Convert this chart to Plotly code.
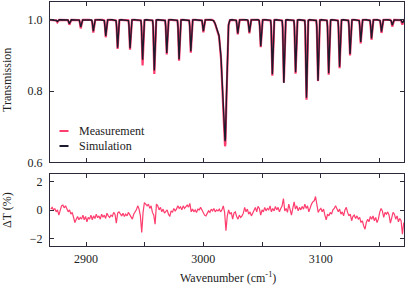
import numpy as np
import plotly.graph_objects as go

# ---- Data ----
# Absorption lines: centre (cm^-1), simulated depth, measured depth, gaussian width (cm^-1)
line_center = [2875.5, 2885.8, 2895.5, 2906.2, 2916.8, 2926.9, 2937.5, 2948.2, 2958.2,
               2968.8, 2979.3, 2989.3, 3000.0, 3012.0, 3014.6, 3016.4, 3018.6,
               3029.3, 3039.2, 3048.9, 3058.8, 3068.6, 3078.6, 3087.9, 3097.7,
               3106.8, 3116.1, 3125.0, 3134.1, 3143.3, 3151.8, 3161.0, 3169.6]
sim_depth = [0.005, 0.011, 0.020, 0.032, 0.045, 0.078, 0.080, 0.112, 0.142,
             0.093, 0.111, 0.088, 0.032, 0.025, 0.060, 0.140, 0.333,
             0.038, 0.035, 0.074, 0.153, 0.177, 0.147, 0.219, 0.171,
             0.150, 0.132, 0.096, 0.062, 0.052, 0.033, 0.015, 0.009]
meas_depth = [0.007, 0.014, 0.024, 0.036, 0.049, 0.082, 0.084, 0.128, 0.152,
              0.097, 0.115, 0.092, 0.035, 0.027, 0.062, 0.143, 0.347,
              0.041, 0.038, 0.077, 0.157, 0.176, 0.151, 0.224, 0.172,
              0.154, 0.136, 0.100, 0.066, 0.056, 0.037, 0.019, 0.013]
line_width = [0.5] * 13 + [1.5, 1.0, 0.9, 1.15] + [0.5] * 16

# Residual ΔT (%) read across the lower panel, evenly spaced in wavenumber
resid_start, resid_end = 2870.0, 3170.8
resid = [
    0.07, 0.19, 0.02, 0.10, -0.12, 0.02, -0.35, -0.05, 0.30, 0.35, 0.16, 0.30, 0.02, -0.12,
    0.02, -0.28, -0.16, -0.63, -0.86, -0.63, -0.44, -0.67, -0.51, -0.63, -0.35, -0.67, -0.44,
    -0.81, -0.51, -0.63, -0.35, -0.67, -0.40, -0.58, -0.28, -0.53, -0.40, -0.63, -0.28, -0.49,
    -0.35, -0.58, -0.21, -0.40, -0.51, -0.35, -0.44, -0.16, -0.28, -0.91, -0.21, -0.12, -0.28,
    -0.40, -0.21, -0.44, -0.28, -0.40, -0.16, -0.35, -0.44, -0.63, -0.28, -0.16, 0.02, 0.30,
    0.07, -0.40, -1.56, -0.16, 0.53, 0.42, 0.30, 0.42, 0.12, 0.30, -0.16, -0.35,
    -0.98, 0.42, 0.30, 0.02, 0.19, -0.12, 0.07, -0.21,
    -0.12, 0.02, -0.28, -0.44, -0.05, -0.16, 0.12, -0.05, 0.07, 0.30, 0.12, 0.23, 0.02, 0.30,
    0.12, 0.26, 0.35, 0.21, 0.47, -0.12, 0.07, -0.12, 0.02, -0.16, 0.07, 0.02, 0.19, 0.02,
    -0.16, -0.35, -0.40, -0.21, -0.05, -0.16, 0.07, -0.05, 0.12, -0.12, 0.02, -0.05, 0.07,
    -0.12, 0.02, 0.30, -0.16, -1.44, -0.40, 0.02, -0.28, -0.16, -0.63, -0.21, -0.12, -0.44,
    -0.63, -0.35, -0.51, -0.40, -0.21, 0.19, -0.12, 0.07, -0.28, -0.12, -0.40, -0.21, 0.07,
    0.19, -0.12, 0.26, 0.12, -0.35, 0.02, -0.12, 0.19, -0.05, 0.12, 0.02, 0.30, -0.12, 0.12,
    -0.05, 0.26, 0.02, 0.19, -0.12, 0.12, 0.30, 0.81,
    -0.05, 0.12, -0.16, 0.42, 0.07, -0.35, 0.12, 0.58, 0.07, 0.30, -0.05, 0.19, 0.02, 0.26,
    0.07, 0.42, 0.12, 0.30, -0.12, 0.19, 0.42, 0.58, 0.65, 0.95, 0.42, -0.16, 0.02, 0.12,
    -0.12, 0.07, -0.35, -0.67, -0.28, -0.40, -0.16, -0.28, 0.02, 0.12, 0.30, 0.02, -0.12,
    0.07, -0.28, -0.12, -0.40, 0.02, 0.19, -0.16, -0.40, -0.28, -0.74, -0.44, -0.35, -0.58,
    -0.40, -0.63, -0.51, -0.86, -0.74, -1.09, -1.33, -0.86, -0.63, -0.81, -0.44, -0.63, -0.40,
    -0.74, -0.51, -0.86, -0.63, -0.16, 0.12, -0.05, -0.51, -0.16, -0.28, -0.12, -0.35, -0.91,
    -0.40, -0.16, -0.28, -0.63, -0.40, -0.81, -0.58, -0.74, -1.67, -0.86,
]

x_major_ticks = [2900, 3000, 3100]
x_minor_step = 50

# ---- Build curves from the line list ----
nu = np.arange(2869.0, 3171.5, 0.05)


def transmission(depths):
    t = np.ones_like(nu)
    for c, d, w in zip(line_center, depths, line_width):
        t -= d * np.exp(-((nu - c) ** 2) / (2 * w * w))
    return t


T_sim = transmission(sim_depth)
T_meas = transmission(meas_depth)
nu_res = np.linspace(resid_start, resid_end, len(resid))

PINK = "#ff3d6e"
DARK = "#1c1a2c"
AX = "#2a2a3a"
FONT = dict(family="Liberation Serif, Times New Roman, serif", size=12, color="#222222")

fig = go.Figure()
fig.add_trace(go.Scatter(x=nu, y=T_meas, mode="lines", line=dict(color=PINK, width=2.2),
                         name="Measurement", xaxis="x", yaxis="y", showlegend=False))
fig.add_trace(go.Scatter(x=nu, y=T_sim, mode="lines", line=dict(color=DARK, width=1.4),
                         name="Simulation", xaxis="x", yaxis="y", showlegend=False))
fig.add_trace(go.Scatter(x=nu_res, y=resid, mode="lines", line=dict(color=PINK, width=1.2),
                         name="ΔT", xaxis="x2", yaxis="y2", showlegend=False))

axis_common = dict(showline=True, linecolor=AX, linewidth=1, mirror="ticks", ticks="inside",
                   ticklen=4, tickwidth=1, tickcolor=AX, showgrid=False, zeroline=False,
                   tickfont=FONT)
x_minor = dict(ticks="inside", ticklen=4, tickwidth=1, tickcolor=AX, dtick=x_minor_step,
               showgrid=False)

x_range = [2869.3, 3171.0]
fig.update_layout(
    width=407, height=289,
    margin=dict(l=50, r=3, t=2, b=43),
    paper_bgcolor="white", plot_bgcolor="white",
    font=FONT,
    xaxis=dict(axis_common, range=x_range, anchor="y", tickvals=x_major_ticks,
               showticklabels=False, minor=x_minor),
    yaxis=dict(axis_common, range=[0.6, 1.05], domain=[0.343, 1.0], anchor="x",
               tickvals=[0.6, 0.8, 1.0], tickformat=".1f", ticklabelstandoff=4),
    xaxis2=dict(axis_common, range=x_range, anchor="y2", matches="x", tickvals=x_major_ticks,
                ticklabelstandoff=2, minor=x_minor),
    yaxis2=dict(axis_common, range=[-2.5, 2.5], domain=[0.0, 0.294], anchor="x2",
                tickvals=[-2, 0, 2], ticklabelstandoff=4),
)

# Axis titles
fig.add_annotation(text="Transmission", xref="paper", yref="paper", x=-43 / 354, y=(246 - 80) / 244,
                   textangle=-90, showarrow=False, xanchor="center", yanchor="middle", font=FONT)
fig.add_annotation(text="ΔT (%)", xref="paper", yref="paper", x=-43 / 354, y=(246 - 210) / 244,
                   textangle=-90, showarrow=False, xanchor="center", yanchor="middle", font=FONT)
fig.add_annotation(text="Wavenumber (cm<sup>-1</sup>)", xref="paper", yref="paper",
                   x=(228 - 50) / 354, y=(246 - 277) / 244, showarrow=False,
                   xanchor="center", yanchor="middle", font=FONT)

# Legend (drawn manually to mimic short line samples)
for label, col, ypix in [("Measurement", PINK, 131), ("Simulation", DARK, 146)]:
    yp = (246 - ypix) / 244
    fig.add_shape(type="line", xref="paper", yref="paper", x0=9.5 / 354, x1=18.5 / 354,
                  y0=yp, y1=yp, line=dict(color=col, width=2))
    fig.add_annotation(text=label, xref="paper", yref="paper", x=26.5 / 354, y=yp,
                       showarrow=False, xanchor="left", yanchor="middle", font=FONT)

fig.write_html("out.html", config={"displayModeBar": False},
               post_script="document.body.style.margin='0';document.body.style.padding='0';")
